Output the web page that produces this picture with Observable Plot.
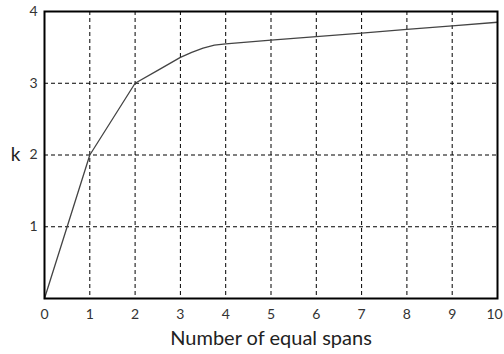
<!DOCTYPE html>
<html>
<head>
<meta charset="utf-8">
<script src="https://cdn.jsdelivr.net/npm/d3@7"></script>
<script src="https://cdn.jsdelivr.net/npm/@observablehq/plot@0.6"></script>
<style>
  html, body { margin: 0; padding: 0; background: #fff; }
  svg { display: block; }
</style>
</head>
<body>
<div id="chart"></div>
<script>
const spans = [0, 1, 2, 2.5, 3, 3.25, 3.5, 3.75, 4, 5, 6, 7, 8, 9, 10];
const kValues = [0, 2, 3, 3.18, 3.36, 3.43, 3.49, 3.53, 3.55, 3.6, 3.65, 3.7, 3.75, 3.8, 3.85];
const xTicks = [0, 1, 2, 3, 4, 5, 6, 7, 8, 9, 10];
const yTicks = [1, 2, 3, 4];

const data = spans.map((s, i) => ({x: s, k: kValues[i]}));
const lastX = xTicks[xTicks.length - 1];

const chart = Plot.plot({
  width: 504,
  height: 354,
  marginLeft: 44,
  marginRight: 7,
  marginTop: 11,
  marginBottom: 56,
  style: {fontFamily: "Lato, 'Open Sans', sans-serif", fontSize: "14px", color: "#333", background: "#fff"},
  x: {domain: [0, 10], label: null},
  y: {domain: [0, 4], label: null},
  marks: [
    Plot.gridX(xTicks.slice(1, -1), {stroke: "#000", strokeOpacity: 1, strokeDasharray: "4,3", strokeWidth: 1}),
    Plot.gridY(yTicks.slice(0, -1), {stroke: "#000", strokeOpacity: 1, strokeDasharray: "4,3", strokeWidth: 1}),
    Plot.line(data, {x: "x", y: "k", stroke: "#444", strokeWidth: 1.3, curve: "linear"}),
    Plot.frame({stroke: "#000", strokeWidth: 2}),
    Plot.axisX({ticks: xTicks.slice(0, -1), tickFormat: d3.format("d"), tickSize: 0, tickPadding: 11, fontSize: 14, fill: "#333", label: null}),
    Plot.axisX({ticks: [lastX], tickFormat: d3.format("d"), tickSize: 0, tickPadding: 11, fontSize: 14, fill: "#333", label: null, dx: -3}),
    Plot.axisY({ticks: yTicks, tickFormat: d3.format("d"), tickSize: 0, tickPadding: 7, fontSize: 14, fill: "#333", label: null}),
    Plot.text(["Number of equal spans"], {frameAnchor: "bottom", dy: 46, fontSize: 20, fill: "#222", text: d => d}),
    Plot.text(["k"], {x: 0, y: 2, dx: -29, fontSize: 19, fill: "#222", text: d => d, textAnchor: "middle"})
  ]
});
document.getElementById("chart").appendChild(chart);
</script>
</body>
</html>
